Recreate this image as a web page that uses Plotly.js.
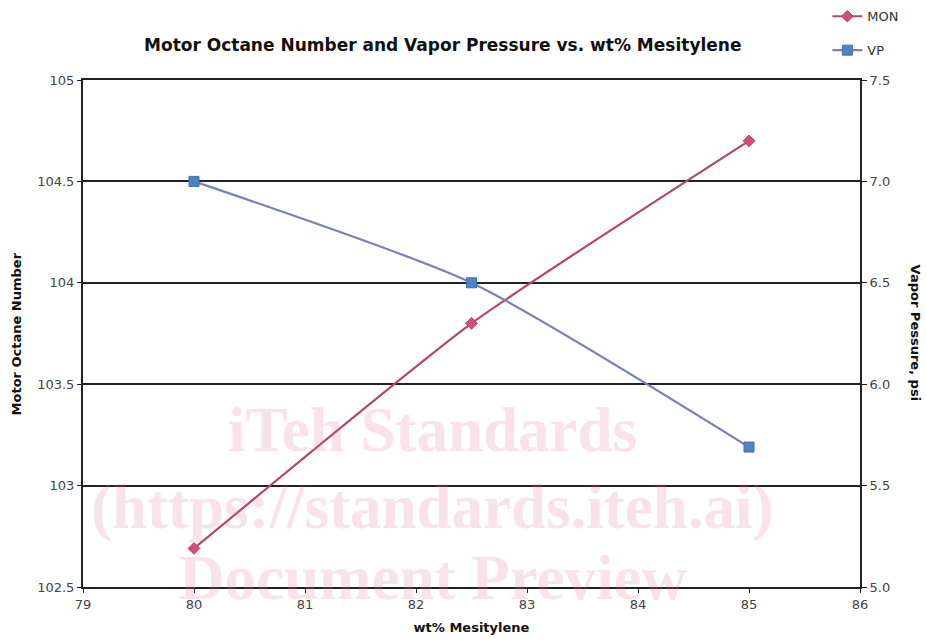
<!DOCTYPE html>
<html>
<head>
<meta charset="utf-8">
<script src="https://cdn.plot.ly/plotly-3.0.1.min.js"></script>
<style>html,body{margin:0;padding:0;background:#fff;}#chart{width:926px;height:643px;}</style>
</head>
<body>
<div id="chart"></div>
<script>
const wtPct = [80, 82.5, 85];
const monValues = [102.69, 103.8, 104.7];
const vpValues = [7.0, 6.5, 5.69];
const seriesNames = ['MON', 'VP'];
const watermarkLines = ['iTeh Standards', '(https://standards.iteh.ai)', 'Document Preview'];

const traces = [
  {
    x: wtPct, y: monValues, name: seriesNames[0], type: 'scatter', mode: 'lines+markers',
    line: {color: '#b8436f', width: 2.2, shape: 'spline', smoothing: 0.5},
    marker: {symbol: 'diamond', size: 9, color: '#d24c7c', line: {color: '#b8436f', width: 1}},
    legendgroup: 'a', yaxis: 'y'
  },
  {
    x: wtPct, y: vpValues, name: seriesNames[1], type: 'scatter', mode: 'lines+markers',
    line: {color: '#7a80b8', width: 2.2, shape: 'spline', smoothing: 0.6},
    marker: {symbol: 'square', size: 10, color: '#4f81c4', line: {color: '#3f6fae', width: 1}},
    legendgroup: 'b', yaxis: 'y2'
  }
];

const tickFont = {family: 'DejaVu Sans, Verdana, sans-serif', size: 13, color: '#444'};
const titleFont = {family: 'DejaVu Sans, Verdana, sans-serif', size: 13, color: '#111', weight: 'bold'};

const annotations = [
  {text: 'Motor Octane Number', xref: 'paper', yref: 'paper', x: -0.085, y: 0.5, textangle: -90,
   showarrow: false, font: titleFont, xanchor: 'center', yanchor: 'middle'},
  {text: 'Vapor Pessure, psi', xref: 'paper', yref: 'paper', x: 1.072, y: 0.5, textangle: 90,
   showarrow: false, font: titleFont, xanchor: 'center', yanchor: 'middle'}
];
const wmY = [0.310, 0.158, 0.018];
watermarkLines.forEach((t, i) => {
  annotations.push({text: t, xref: 'paper', yref: 'paper', x: 0.45, y: wmY[i], showarrow: false,
    xanchor: 'center', yanchor: 'middle',
    font: {family: 'Liberation Serif, serif', size: 63, color: 'rgba(232,110,150,0.2)', weight: 'bold'}});
});

const layout = {
  width: 926, height: 643,
  margin: {l: 83, r: 66, t: 80, b: 56},
  paper_bgcolor: '#fff', plot_bgcolor: '#fff',
  title: {text: 'Motor Octane Number and Vapor Pressure vs. wt% Mesitylene', xref: 'paper', x: 0.463,
          xanchor: 'center', y: 0.93, yanchor: 'middle',
          font: {family: 'DejaVu Sans, Verdana, sans-serif', size: 17, color: '#111', weight: 'bold'}},
  xaxis: {range: [79, 86], dtick: 1, tick0: 79, showgrid: false, zeroline: false,
          showline: true, mirror: true, linecolor: '#222', linewidth: 2,
          ticks: 'outside', ticklen: 4, tickcolor: '#222', tickfont: tickFont,
          title: {text: 'wt% Mesitylene', font: titleFont, standoff: 12}},
  yaxis: {range: [102.5, 105], dtick: 0.5, tick0: 102.5, showgrid: true, gridcolor: '#222', gridwidth: 1.6,
          zeroline: false, showline: true, mirror: true, linecolor: '#222', linewidth: 2,
          ticks: 'outside', ticklen: 4, tickcolor: '#222', tickfont: tickFont},
  yaxis2: {range: [5, 7.5], dtick: 0.5, tick0: 5, tickformat: '.1f', overlaying: 'y', side: 'right',
           showgrid: false, zeroline: false, showline: true, linecolor: '#222', linewidth: 2,
           ticks: 'outside', ticklen: 5, tickcolor: '#222', tickfont: tickFont},
  legend: {xref: 'paper', yref: 'container', x: 0.958, y: 0.998, xanchor: 'left', yanchor: 'top', tracegroupgap: 14,
           font: {family: 'DejaVu Sans, Verdana, sans-serif', size: 13, color: '#333'}, bgcolor: 'rgba(0,0,0,0)'},
  showlegend: true,
  annotations: annotations
};

Plotly.newPlot('chart', traces, layout, {displayModeBar: false});
</script>
</body>
</html>
